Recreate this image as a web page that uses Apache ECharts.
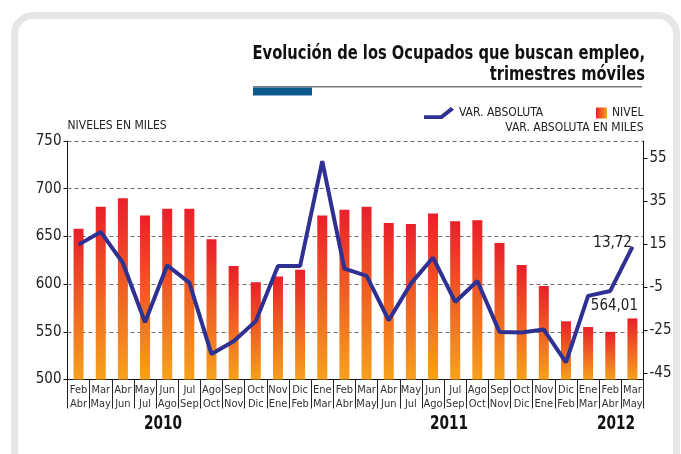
<!DOCTYPE html>
<html>
<head>
<meta charset="utf-8">
<script src="https://cdn.jsdelivr.net/npm/echarts@6/dist/echarts.min.js"></script>
<style>
  html, body { margin: 0; padding: 0; background: #fff; overflow: hidden; }
  .frame {
    position: absolute; left: 11px; top: 12px; width: 655px; height: 470px;
    border: 7px solid #e6e6e6; border-radius: 22px;
  }
  #chart { position: absolute; left: 0; top: 0; width: 681px; height: 454px; }
</style>
</head>
<body>
<div class="frame"></div>
<div id="chart"></div>
<script>
// periodos (trimestres moviles)
const periodos = [
  'Feb\nAbr', 'Mar\nMay', 'Abr\nJun', 'May\nJul', 'Jun\nAgo', 'Jul\nSep', 'Ago\nOct', 'Sep\nNov', 'Oct\nDic', 'Nov\nEne', 'Dic\nFeb',
  'Ene\nMar', 'Feb\nAbr', 'Mar\nMay', 'Abr\nJun', 'May\nJul', 'Jun\nAgo', 'Jul\nSep', 'Ago\nOct', 'Sep\nNov', 'Oct\nDic', 'Nov\nEne', 'Dic\nFeb',
  'Ene\nMar', 'Feb\nAbr', 'Mar\nMay'
]
// nivel, miles
const nivel = [658, 681, 690, 672, 679, 679, 647, 619, 602, 608, 615,
  672, 678, 681, 664, 663, 674, 666, 667, 643, 620, 598, 561,
  555, 550, 564.01]
// var. absoluta, miles
const varAbsoluta = [14.8, 20.7, 6.3, -21.2, 5.2, -2.8, -36, -30, -20.7, 4.9, 4.9,
  53.5, 3.7, 0.3, -20.3, -3.3, 8.8, -11.8, -2.1, -25.7, -26, -24.6, -39.9,
  -9, -6.7, 13.72]
const varTicks = [-45, -25, -5, 15, 35, 55]
const years = [{ text: '2010', x: 163 }, { text: '2011', x: 449 }, { text: '2012', x: 616 }]
const titulo = ['Evolución de los Ocupados que buscan empleo,', 'trimestres móviles']

const FONT = "'Liberation Sans Narrow', 'DejaVu Sans Condensed', 'Liberation Sans', sans-serif"
const fmt = (v) => v.toFixed(2).replace('.', ',')
const last = periodos.length - 1

const chart = echarts.init(document.getElementById('chart'))

chart.setOption({
  textStyle: { fontFamily: FONT },
  animation: false,
  grid: { left: 67.5, right: 37.5, top: 141, bottom: 74.5 },
  legend: [
    {
      left: 419, top: 102,
      itemWidth: 30, itemHeight: 12, itemGap: 0,
      textStyle: { fontFamily: FONT, fontSize: 12, color: '#222' },
      data: [{ name: 'VAR. ABSOLUTA', icon: 'path://M1,8.5 L17,8.5 L27,0.5 L30,3 L18.5,12 L1,12 Z' }]
    },
    {
      left: 591, top: 102,
      itemWidth: 11, itemHeight: 11, itemGap: 0,
      textStyle: { fontFamily: FONT, fontSize: 12, color: '#222' },
      data: [{
        name: 'NIVEL', icon: 'rect',
        itemStyle: {
          color: new echarts.graphic.LinearGradient(0, 0, 1, 0, [
            { offset: 0, color: '#e8202a' }, { offset: 1, color: '#f7a11c' }
          ])
        }
      }]
    }
  ],
  xAxis: {
    type: 'category',
    data: periodos,
    boundaryGap: true,
    axisLine: { onZero: false, lineStyle: { color: '#111', width: 1 } },
    axisTick: { show: true, interval: 0, length: 29, lineStyle: { color: '#222' } },
    axisLabel: { interval: 0, fontFamily: FONT, fontSize: 11, lineHeight: 14, color: '#333', margin: 4 }
  },
  yAxis: [
    {
      type: 'value', position: 'left',
      min: 500, max: 750, interval: 50,
      name: 'NIVELES EN MILES', nameLocation: 'end', nameGap: 9,
      nameTextStyle: { fontFamily: FONT, fontSize: 12, color: '#222', align: 'left' },
      axisLine: { show: true, lineStyle: { color: '#111' } },
      axisTick: { show: true, length: 4, lineStyle: { color: '#111' } },
      axisLabel: { fontFamily: FONT, fontSize: 15, color: '#222', margin: 6 },
      splitLine: { show: true, lineStyle: { color: '#6e6e6e', type: [4, 3], width: 1 } }
    },
    {
      type: 'value', position: 'right',
      min: -47.8, max: 62.9,
      name: 'VAR. ABSOLUTA EN MILES', nameLocation: 'end', nameGap: 7,
      nameTextStyle: { fontFamily: FONT, fontSize: 12, color: '#222', align: 'right' },
      axisLine: { show: true, lineStyle: { color: '#111' } },
      axisTick: { show: true, length: 4, customValues: varTicks, lineStyle: { color: '#111' } },
      axisLabel: { fontFamily: FONT, fontSize: 15, color: '#222', margin: 6, customValues: varTicks },
      splitLine: { show: false }
    }
  ],
  series: [
    {
      name: 'NIVEL',
      type: 'bar',
      yAxisIndex: 0,
      barWidth: 10,
      itemStyle: {
        color: new echarts.graphic.LinearGradient(0, 0, 0, 1, [
          { offset: 0, color: '#e8202a' }, { offset: 1, color: '#f7a11c' }
        ])
      },
      data: nivel.map((v, i) => i === last
        ? { value: v, label: { show: true, position: 'top', distance: 5, offset: [-18, 0], formatter: (p) => fmt(p.value), fontFamily: FONT, fontSize: 15, color: '#222' } }
        : v)
    },
    {
      name: 'VAR. ABSOLUTA',
      type: 'line',
      yAxisIndex: 1,
      symbol: 'circle',
      symbolSize: 1,
      showSymbol: true,
      z: 5,
      lineStyle: { color: '#2e3192', width: 4 },
      itemStyle: { color: '#2e3192' },
      data: varAbsoluta.map((v, i) => i === last
        ? { value: v, label: { show: true, position: 'left', distance: 0, offset: [0, -4], formatter: (p) => fmt(p.value), fontFamily: FONT, fontSize: 15, color: '#222' } }
        : v)
    }
  ],
  graphic: [
    ...titulo.map((t, i) => ({
      type: 'text', x: 645, y: 54.5 + i * 20.5, scaleX: 0.86,
      style: { text: t, align: 'right', verticalAlign: 'middle', font: 'bold 19px ' + FONT, fill: '#111' }
    })),
    { type: 'rect', shape: { x: 253, y: 86, width: 389, height: 1.5 }, style: { fill: '#777' } },
    { type: 'rect', shape: { x: 253, y: 87.5, width: 59, height: 8 }, style: { fill: '#0b5a8e' } },
    ...years.map((y) => ({
      type: 'text', x: y.x, y: 424, scaleX: 0.8,
      style: { text: y.text, align: 'center', verticalAlign: 'middle', font: 'bold 19px ' + FONT, fill: '#111' }
    }))
  ]
})
</script>
</body>
</html>
